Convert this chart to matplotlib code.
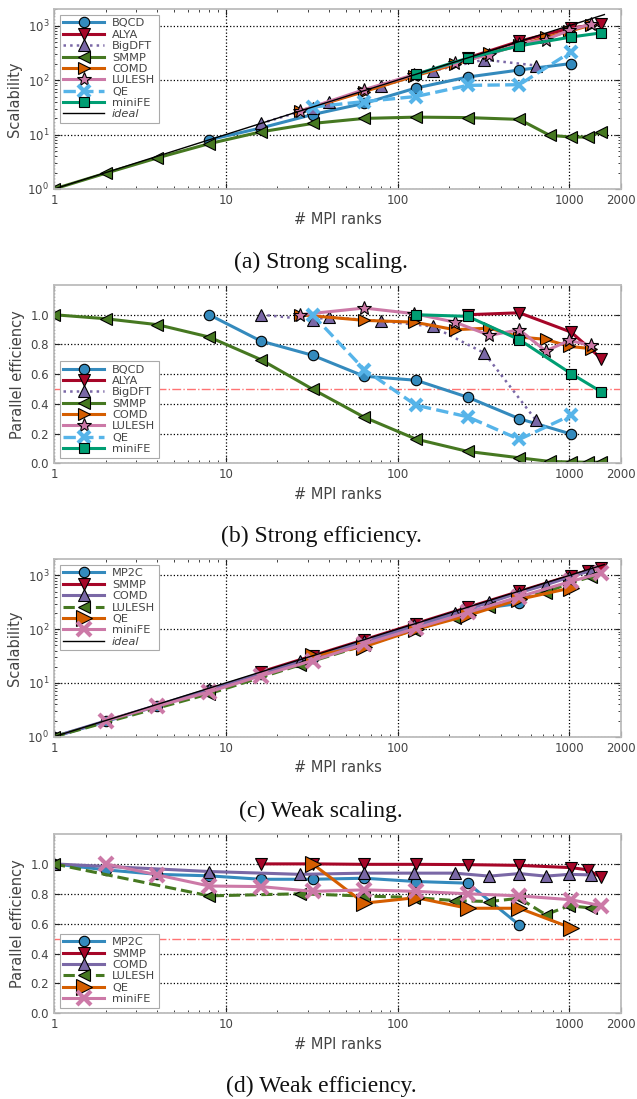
import matplotlib
matplotlib.use('Agg')
import matplotlib.pyplot as plt
from matplotlib.ticker import LogLocator, NullFormatter, FixedLocator

# ---------------- data: strong scaling ----------------
bqcd_n = [8, 16, 32, 64, 128, 256, 512, 1024]
bqcd_eff = [1.0, 0.823, 0.727, 0.586, 0.559, 0.445, 0.30, 0.197]
bqcd_scal = [8, 13.2, 23.3, 37.5, 71.6, 113.9, 153.6, 201.7]

alya_n = [256, 512, 1024, 1536]
alya_eff = [1.0, 1.013, 0.883, 0.705]
alya_scal = [256, 518.7, 904, 1083]

bigdft_n = [16, 32, 40, 80, 160, 320, 640]
bigdft_eff = [1.0, 0.966, 0.984, 0.957, 0.921, 0.742, 0.29]
bigdft_scal = [16, 30.9, 39.4, 76.6, 147.4, 237.4, 185.6]

smmp_n = [1, 2, 4, 8, 16, 32, 64, 128, 256, 512, 768, 1024, 1280, 1536]
smmp_eff = [1.0, 0.973, 0.933, 0.85, 0.698, 0.499, 0.31, 0.163, 0.08, 0.037,
            0.0126, 0.0088, 0.007, 0.0073]
smmp_scal = [1, 1.95, 3.73, 6.8, 11.2, 16, 19.8, 20.9, 20.5, 19, 9.7, 9.0, 9.0, 11.2]

comd_n = [27, 64, 125, 216, 343, 512, 729, 1000, 1331]
comd_eff = [1.0, 0.962, 0.95, 0.899, 0.91, 0.85, 0.834, 0.787, 0.772]
comd_scal = [27, 61.6, 118.8, 194.2, 312.1, 435.2, 608, 787, 1027.6]

lulesh_n = [27, 64, 125, 216, 343, 512, 729, 1000, 1331]
lulesh_eff = [1.0, 1.045, 1.007, 0.95, 0.861, 0.899, 0.756, 0.827, 0.794]
lulesh_scal = [27, 66.9, 125.9, 205.2, 295.3, 460.3, 551.1, 827, 1056.8]

qe_n = [32, 64, 128, 256, 512, 1024]
qe_eff = [1.0, 0.631, 0.391, 0.313, 0.161, 0.324]
qe_scal = [32, 40.4, 50, 80.1, 82.4, 331.8]

minife_n = [128, 256, 512, 1024, 1536]
minife_eff = [1.0, 0.989, 0.832, 0.604, 0.481]
minife_scal = [128, 253.2, 426, 618.5, 738.8]

ideal_n = [1, 1600]

# ---------------- data: weak scaling ----------------
w_mp2c_n = [1, 2, 4, 8, 16, 32, 64, 128, 256, 512]
w_mp2c_eff = [1.0, 0.96, 0.93, 0.92, 0.897, 0.897, 0.904, 0.882, 0.871, 0.591]
w_mp2c_scal = [1, 1.92, 3.72, 7.36, 14.4, 28.7, 57.9, 112.9, 223, 302.6]

w_smmp_n = [16, 32, 64, 128, 256, 512, 1024, 1280, 1536]
w_smmp_eff = [1.0, 1.0, 0.997, 0.997, 0.995, 0.99, 0.975, 0.96, 0.91]
w_smmp_scal = [16, 32, 63.8, 127.6, 254.7, 507, 998, 1229, 1398]

w_comd_n = [1, 8, 27, 64, 125, 216, 343, 512, 729, 1000, 1331]
w_comd_eff = [1.0, 0.949, 0.93, 0.938, 0.938, 0.938, 0.918, 0.935, 0.918, 0.93, 0.926]
w_comd_scal = [1, 7.59, 25.1, 60, 117.3, 202.6, 314.9, 478.7, 669.2, 930, 1232.5]

w_lulesh_n = [1, 8, 27, 64, 125, 216, 343, 512, 729, 1000, 1331]
w_lulesh_eff = [1.0, 0.786, 0.80, 0.785, 0.775, 0.754, 0.748, 0.77, 0.66, 0.72, 0.705]
w_lulesh_scal = [1, 6.29, 21.6, 50.2, 96.9, 162.9, 256.6, 394, 481, 720, 938]

w_qe_n = [32, 64, 128, 256, 512, 1024]
w_qe_eff = [1.0, 0.737, 0.774, 0.703, 0.703, 0.572]
w_qe_scal = [32, 47.2, 99.1, 180, 360, 586]

w_minife_n = [2, 4, 8, 16, 32, 64, 128, 256, 512, 1024, 1536]
w_minife_eff = [1.0, 0.926, 0.852, 0.848, 0.816, 0.826, 0.816, 0.80, 0.786, 0.76, 0.72]
w_minife_scal = [2, 3.7, 6.82, 13.6, 26.1, 52.9, 104.4, 204.8, 402, 778, 1106]

xticks = [1, 10, 100, 1000, 2000]
xticklabels = ['1', '10', '100', '1000', '2000']
eff_ticks = [0.0, 0.2, 0.4, 0.6, 0.8, 1.0]

captions = ['(a) Strong scaling.', '(b) Strong efficiency.',
            '(c) Weak scaling.', '(d) Weak efficiency.']

# ---------------- style ----------------
BLUE, RED, PURPLE, GREEN = '#348ABD', '#A60628', '#7A68A6', '#467821'
ORANGE, PINK, LBLUE, TEAL = '#D55E00', '#CC79A7', '#56B4E9', '#009E73'
TXT = '#444444'

plt.rcParams['font.family'] = ['DejaVu Sans']
plt.rcParams['mathtext.default'] = 'regular'

W, H = 637, 1099
fig = plt.figure(figsize=(W / 100, H / 100), dpi=100)


def add_ax(top, bottom, left=54, right=621):
    return fig.add_axes([left / W, 1 - bottom / H, (right - left) / W, (bottom - top) / H])


def style(ax, logy):
    ax.set_xscale('log')
    ax.set_xlim(1, 2000)
    ax.xaxis.set_major_locator(FixedLocator(xticks))
    ax.set_xticklabels(xticklabels)
    ax.xaxis.set_minor_locator(LogLocator(base=10, subs=range(2, 10), numticks=20))
    ax.xaxis.set_minor_formatter(NullFormatter())
    if logy:
        ax.set_yscale('log')
        ax.set_ylim(1, 2000)
        ax.yaxis.set_major_locator(FixedLocator([1, 10, 100, 1000]))
        ax.yaxis.set_minor_locator(LogLocator(base=10, subs=range(2, 10), numticks=20))
        ax.yaxis.set_minor_formatter(NullFormatter())
        ax.set_ylabel('Scalability', fontsize=10.5, color=TXT)
    else:
        ax.set_ylim(0, 1.2)
        ax.set_yticks(eff_ticks)
        ax.set_yticklabels(['%.1f' % v for v in eff_ticks])
        ax.set_ylabel('Parallel efficiency', fontsize=10.5, color=TXT)
        ax.axhline(0.5, color='#ff4444', ls='-.', lw=1.0, alpha=0.75, zorder=1.6)
    ax.set_xlabel('# MPI ranks', fontsize=10.5, color=TXT)
    ax.grid(True, which='major', linestyle=':', color='black', linewidth=0.9)
    for s in ax.spines.values():
        s.set_color('#bcbcbc')
        s.set_linewidth(1.3)
    ax.tick_params(which='both', direction='in', top=True, right=True,
                   color='#222222', labelcolor=TXT, labelsize=8.5)
    ax.tick_params(which='major', length=4, width=0.8)
    ax.tick_params(which='minor', length=2, width=0.6)


def plot(ax, x, y, color, marker, label, ms=7.5, ls='-', lw=2.2, xmark=False):
    if xmark:
        ax.plot(x, y, color=color, marker=marker, ms=ms, mew=3, ls=ls, lw=lw,
                label=label)
    else:
        ax.plot(x, y, color=color, marker=marker, ms=ms, mec='black', mew=0.8,
                ls=ls, lw=lw, label=label)


def legend(ax, loc):
    leg = ax.legend(loc=loc, fontsize=8.2, labelspacing=0.12, handlelength=3.6,
                    handletextpad=0.7, borderpad=0.3, borderaxespad=0.5,
                    fancybox=False, edgecolor='#aaaaaa', framealpha=1, numpoints=1)
    leg.get_frame().set_linewidth(0.8)
    for t in leg.get_texts():
        t.set_color(TXT)
        if t.get_text() == 'ideal':
            t.set_fontstyle('italic')
    return leg


tops = [9.3, 285, 559.3, 834]
bottoms = [189, 463.3, 736.7, 1013.3]
caption_y = [262, 536, 811, 1086]

# (a) strong scaling
ax = add_ax(tops[0], bottoms[0])
style(ax, True)
plot(ax, bqcd_n, bqcd_scal, BLUE, 'o', 'BQCD')
plot(ax, alya_n, alya_scal, RED, 'v', 'ALYA', ms=8)
plot(ax, bigdft_n, bigdft_scal, PURPLE, '^', 'BigDFT', ls=':', lw=1.8, ms=8)
plot(ax, smmp_n, smmp_scal, GREEN, '<', 'SMMP', ms=8)
plot(ax, comd_n, comd_scal, ORANGE, '>', 'COMD', ms=8)
plot(ax, lulesh_n, lulesh_scal, PINK, '*', 'LULESH', ms=10)
plot(ax, qe_n, qe_scal, LBLUE, 'x', 'QE', ls='--', lw=2.4, ms=9, xmark=True)
plot(ax, minife_n, minife_scal, TEAL, 's', 'miniFE', ms=7.5)
ax.plot(ideal_n, ideal_n, color='black', lw=1.0, label='ideal')
legend(ax, 'upper left')

# (b) strong efficiency
ax = add_ax(tops[1], bottoms[1])
style(ax, False)
plot(ax, bqcd_n, bqcd_eff, BLUE, 'o', 'BQCD')
plot(ax, alya_n, alya_eff, RED, 'v', 'ALYA', ms=8)
plot(ax, bigdft_n, bigdft_eff, PURPLE, '^', 'BigDFT', ls=':', lw=1.8, ms=8)
plot(ax, smmp_n, smmp_eff, GREEN, '<', 'SMMP', ms=8)
plot(ax, comd_n, comd_eff, ORANGE, '>', 'COMD', ms=8)
plot(ax, lulesh_n, lulesh_eff, PINK, '*', 'LULESH', ms=10)
plot(ax, qe_n, qe_eff, LBLUE, 'x', 'QE', ls='--', lw=2.4, ms=9, xmark=True)
plot(ax, minife_n, minife_eff, TEAL, 's', 'miniFE', ms=7.5)
legend(ax, 'lower left')

# (c) weak scaling
ax = add_ax(tops[2], bottoms[2])
style(ax, True)
plot(ax, w_mp2c_n, w_mp2c_scal, BLUE, 'o', 'MP2C')
plot(ax, w_smmp_n, w_smmp_scal, RED, 'v', 'SMMP', ms=9)
plot(ax, w_comd_n, w_comd_scal, PURPLE, '^', 'COMD', ms=8.5)
plot(ax, w_lulesh_n, w_lulesh_scal, GREEN, '<', 'LULESH', ls='--', ms=8.5)
plot(ax, w_qe_n, w_qe_scal, ORANGE, '>', 'QE', ms=11)
plot(ax, w_minife_n, w_minife_scal, PINK, 'x', 'miniFE', ms=10, xmark=True)
ax.plot(ideal_n, ideal_n, color='black', lw=1.0, label='ideal')
legend(ax, 'upper left')

# (d) weak efficiency
ax = add_ax(tops[3], bottoms[3])
style(ax, False)
plot(ax, w_mp2c_n, w_mp2c_eff, BLUE, 'o', 'MP2C')
plot(ax, w_smmp_n, w_smmp_eff, RED, 'v', 'SMMP', ms=9)
plot(ax, w_comd_n, w_comd_eff, PURPLE, '^', 'COMD', ms=8.5)
plot(ax, w_lulesh_n, w_lulesh_eff, GREEN, '<', 'LULESH', ls='--', ms=8.5)
plot(ax, w_qe_n, w_qe_eff, ORANGE, '>', 'QE', ms=11)
plot(ax, w_minife_n, w_minife_eff, PINK, 'x', 'miniFE', ms=10, xmark=True)
legend(ax, 'lower left')

for cap, cy in zip(captions, caption_y):
    fig.text(321 / W, 1 - cy / H, cap, ha='center', va='center',
             fontsize=17, family=['Liberation Serif', 'DejaVu Serif'], color='#111111')

fig.savefig('out.png', dpi=100)
